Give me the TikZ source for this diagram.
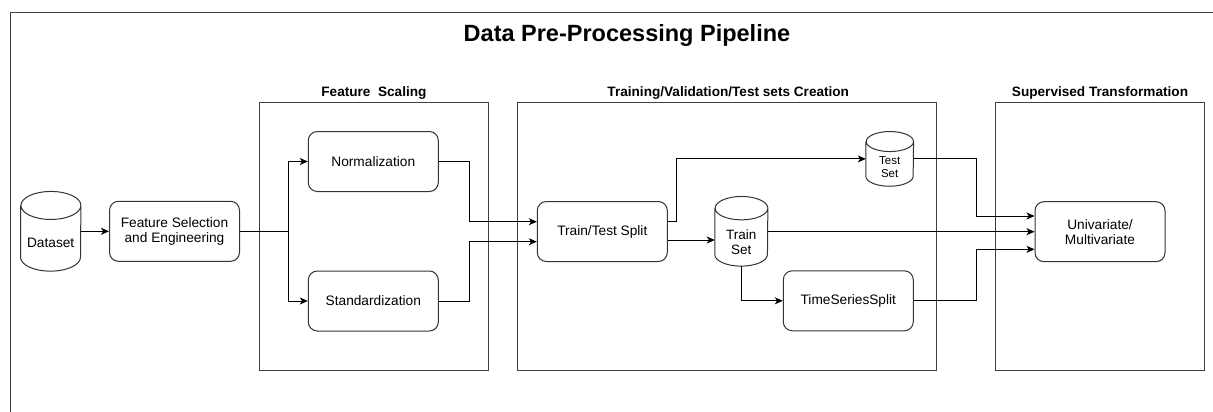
\documentclass[tikz,border=0pt]{standalone}
\usepackage{fontspec}
\setmainfont{Liberation Sans}
\usetikzlibrary{arrows.meta,calc}
\newcommand\drawcyl[3]{% node name, x radius, y radius
  \draw[cyl] ($(#1.north west)+(0,#3)$) -- ($(#1.south west)+(0,-#3)$)
    arc[start angle=180,end angle=360,x radius=#2pt,y radius=#3pt]
    -- ($(#1.north east)+(0,#3)$)
    arc[start angle=0,end angle=180,x radius=#2pt,y radius=#3pt]
    arc[start angle=180,end angle=360,x radius=#2pt,y radius=#3pt];
}
\begin{document}
\begin{tikzpicture}[x=1pt,y=-1pt,
  box/.style={draw=black!80, line width=1pt, rounded corners=9pt, minimum width=130pt, minimum height=60pt, align=center, font=\fontsize{13.7}{15}\selectfont, inner sep=0pt},
  frame/.style={draw=black!75, line width=1pt, inner sep=0pt},
  sec/.style={font=\bfseries\fontsize{13.6}{15}\selectfont, anchor=base, inner sep=0pt},
  arr/.style={draw=black, line width=1pt, -{Stealth[length=8pt,width=7pt,inset=2.2pt]}},
  ln/.style={draw=black, line width=1pt},
  cyl/.style={draw=black!80, line width=1pt},
  cylbox/.style={draw=none, inner sep=0pt},
  cyltxt/.style={align=center, inner sep=0pt},
]
\useasboundingbox (0,0) rectangle (1213,412);
% outer frame (cut by the picture edge)
\draw[frame] (1213,12.3) -- (10.3,12.3) -- (10.3,412);
\node[font=\bfseries\fontsize{23.5}{28}\selectfont, anchor=base, inner sep=0pt] (title) at (627,41.3) {Data Pre-Processing Pipeline};

% section frames
\node[frame, minimum width=229.3pt, minimum height=268.5pt] (fsf) at (373.65,236.25) {};
\node[frame, minimum width=418.7pt, minimum height=268.5pt] (tvf) at (726.65,236.25) {};
\node[frame, minimum width=208.6pt, minimum height=268.5pt] (stf) at (1100,236.25) {};
\node[sec] (fslab) at ($(fsf.north)+(0.3,-4.7)$) {Feature\ \ Scaling};
\node[sec] (tvlab) at ($(tvf.north)+(1.6,-4.7)$) {Training/Validation/Test sets Creation};
\node[sec] (stlab) at ($(stf.north)+(0,-4.7)$) {Supervised Transformation};

% dataset cylinder
\node[cylbox, minimum width=60pt, minimum height=79.3pt] (ds) at (50.7,231.3) {};
\drawcyl{ds}{30}{14}
\node[cyltxt, font=\fontsize{13.7}{15}\selectfont] (dstxt) at ($(ds.center)+(0,11.7)$) {Dataset};

% boxes
\node[box] (fse) at (174.5,231.3) {Feature Selection\\and Engineering};
\node[box] (norm) at (373.3,161.5) {Normalization};
\node[box] (std) at (373.3,301) {Standardization};
\node[box] (tts) at (602.3,231.5) {Train/Test Split};
\node[box] (tss) at (848.3,300.8) {TimeSeriesSplit};
\node[box] (uni) at (1100,231.7) {Univariate/\\Multivariate};

% test set cylinder
\node[cylbox, minimum width=47.3pt, minimum height=54.3pt] (tes) at (889.7,158.9) {};
\drawcyl{tes}{23.65}{10}
\node[cyltxt, font=\fontsize{11.5}{13.3}\selectfont] (testxt) at ($(tes.center)+(0,8.4)$) {Test\\Set};

% train set cylinder
\node[cylbox, minimum width=52.7pt, minimum height=69.3pt] (trs) at (741.3,231.3) {};
\drawcyl{trs}{26.35}{11.7}
\node[cyltxt, font=\fontsize{13.5}{15}\selectfont] (trstxt) at ($(trs.center)+(0,10.5)$) {Train\\Set};

% connectors
\coordinate (br) at (288.7,231.3);
\draw[arr] (ds.east) -- (ds.east -| fse.west);
\draw[ln] (fse.east) -- (br);
\draw[arr] (br) |- (norm.west);
\draw[arr] (br) |- (std.west);

\coordinate (nb) at (469.3,161.5);
\coordinate (sb) at (469.3,301);
\draw[arr] (norm.east) -- (nb) |- ($(tts.west)+(0,-9.8)$);
\draw[arr] (std.east) -- (sb) |- ($(tts.west)+(0,10.2)$);

\coordinate (tb) at (676.7,221);
\draw[arr] (tts.east |- tb) -- (tb) |- (tes.west);
\draw[arr] ($(tts.east)+(0,8.5)$) -- ($(trs.west)+(0,8.7)$);
\draw[arr] (trs.south) |- (tss.west);

\draw[arr] (trs.east |- uni.west) -- (uni.west);
\coordinate (ub) at (976,158.9);
\coordinate (lb) at (976,300.8);
\draw[arr] (tes.east) -- (ub) |- ($(uni.west)+(0,-15.7)$);
\draw[arr] (tss.east) -- (lb) |- ($(uni.west)+(0,17.6)$);
\end{tikzpicture}
\end{document}
